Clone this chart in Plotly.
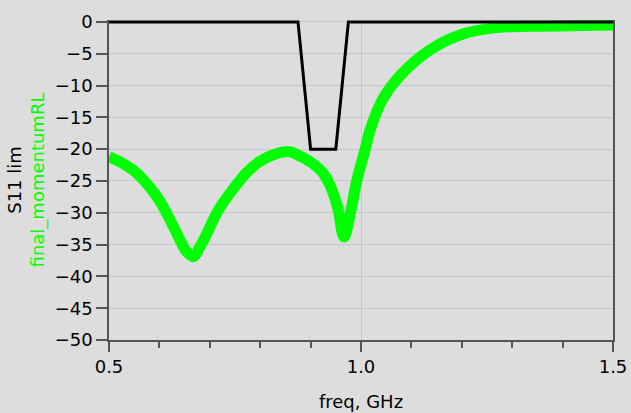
import plotly.graph_objects as go

# Green trace: final_momentumRL (dB) vs freq (GHz)
freq_rl = [0.5, 0.524, 0.548, 0.568, 0.587, 0.602, 0.615, 0.628, 0.641, 0.654, 0.667,
           0.68, 0.694, 0.707, 0.72, 0.746, 0.774, 0.8, 0.829, 0.859, 0.879, 0.903,
           0.923, 0.938, 0.954, 0.966, 0.98, 0.992, 1.008, 1.018, 1.042, 1.077,
           1.137, 1.202, 1.27, 1.335, 1.42, 1.5]
rl_db = [-21.2, -22.1, -23.3, -24.8, -26.6, -28.3, -30.2, -32.2, -34.3, -36.1, -36.9,
         -35.4, -33.3, -31.1, -29.2, -26.3, -23.6, -21.9, -20.8, -20.4, -21.1, -22.2,
         -23.6, -25.6, -29.3, -33.8, -29.6, -24.8, -20.1, -17.0, -12.3, -8.5,
         -4.4, -1.9, -0.9, -0.7, -0.6, -0.5]

# Black trace: limit mask
freq_lim = [0.5, 0.875, 0.9, 0.95, 0.975, 1.5]
lim_db = [0, 0, -20, -20, 0, 0]

y_ticks = [0, -5, -10, -15, -20, -25, -30, -35, -40, -45, -50]
x_ticks = [0.5, 1.0, 1.5]
x_tick_text = ["0.5", "1.0", "1.5"]

FONT = "DejaVu Sans"
BG = "#dddddd"

fig = go.Figure()
fig.add_trace(go.Scatter(x=freq_rl, y=rl_db, mode="lines",
                         line=dict(color="#00ff00", width=11, shape="spline", smoothing=1.0),
                         showlegend=False))
fig.add_trace(go.Scatter(x=freq_lim, y=lim_db, mode="lines",
                         line=dict(color="#000000", width=3),
                         showlegend=False))

fig.update_layout(
    width=631, height=413,
    margin=dict(l=109, r=18, t=20, b=73),
    paper_bgcolor=BG, plot_bgcolor=BG,
    font=dict(family=FONT, size=18, color="black"),
    xaxis=dict(range=[0.5, 1.5], tickvals=x_ticks, ticktext=x_tick_text, automargin=False,
               ticks="outside", ticklen=10, tickcolor="#555", tickwidth=1.5,
               showline=True, linecolor="#555", linewidth=1.5,
               showgrid=True, gridcolor="#c6c6c6", gridwidth=1, zeroline=False,
               minor=dict(dtick=0.1, ticks="outside", ticklen=6, tickcolor="#555",
                          showgrid=False),
               title=dict(text="freq, GHz", standoff=19, font=dict(size=18))),
    yaxis=dict(range=[-50, 0.3], tickvals=y_ticks, automargin=False,
               ticks="outside", ticklen=11, tickcolor="#555", tickwidth=1.5,
               showline=True, linecolor="#555", linewidth=1.5, mirror=True,
               showgrid=True, gridcolor="#c6c6c6", gridwidth=1, zeroline=False,
               title=dict(text="<span style='color:black'>S11 lim</span><br>"
                               "<span style='color:#00ff00'>final_momentumRL</span>",
                          standoff=5, font=dict(size=18))),
)

fig.write_html("out.html")
